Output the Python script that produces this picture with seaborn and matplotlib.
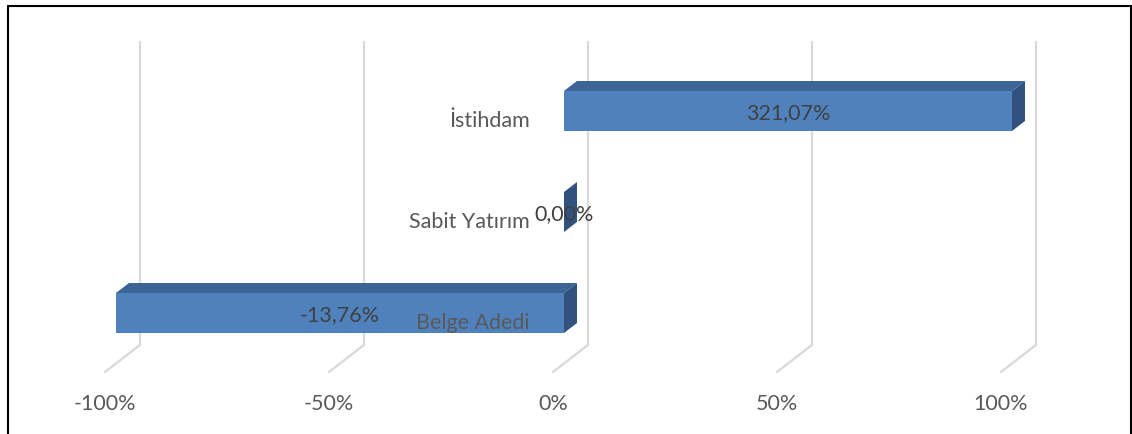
import pandas as pd
import matplotlib
matplotlib.use("Agg")
import matplotlib.pyplot as plt
from matplotlib.patches import Polygon, Rectangle
from matplotlib.transforms import ScaledTranslation, IdentityTransform
import seaborn as sns

# veriler (eksen ±%100 ile kesiliyor, çubuklar kenarda kesik görünüyor)
kategoriler = ["İstihdam", "Sabit Yatırım", "Belge Adedi"]
degisim = [3.2107, 0.0, -1.376]
degisim_etiket = ["321,07%", "0,00%", "-13,76%"]
eksen_tikler = [-1.0, -0.5, 0.0, 0.5, 1.0]
eksen_etiket = ["-100%", "-50%", "0%", "50%", "100%"]

ON = "#4F81BD"
UST = "#3C6494"
YAN = "#30527D"
IZGARA = "#D9D9D9"
YAZI = "#595959"
FS = 15.5

sns.set_theme(style="white")
plt.rcParams["font.family"] = ["Lato", "DejaVu Sans"]

W, H = 1132, 434
fig = plt.figure(figsize=(W / 100, H / 100), dpi=100)
ax = fig.add_axes([116 / W, 1 - 363.5 / H, 896 / W, 303 / H])
ax.patch.set_alpha(0)

df = pd.DataFrame({"kategori": kategoriler, "deger": degisim})
sns.barplot(data=df, x="deger", y="kategori", order=kategoriler, color=ON,
            saturation=1, width=40 / 101, edgecolor="none", ax=ax, zorder=2)
ax.set_xlim(-1, 1)
ax.set_ylim(2.5, -0.5)
for s in ax.spines.values():
    s.set_visible(False)
ax.set_yticks([])
ax.set_xticks(eksen_tikler, eksen_etiket)
ax.tick_params(axis="x", length=0, pad=22, labelsize=FS, labelcolor=YAZI)
ax.set_xlabel("")
ax.set_ylabel("")


def kay(dx, dy):
    return ScaledTranslation(dx / 100, dy / 100, fig.dpi_scale_trans)


for lab in ax.get_xticklabels():
    lab.set_transform(lab.get_transform() + kay(-11, 0))

# 3B izgara: arka duvar + zemin çizgileri
arka = ax.transData + kay(24, 18.5)
on = ax.transData + kay(-11, -8.5)
for t in eksen_tikler:
    ax.plot([t, t], [2.5, -0.5], transform=arka, color=IZGARA, lw=1.6,
            zorder=0, clip_on=False)
    p1 = arka.transform((t, 2.5))
    p2 = on.transform((t, 2.5))
    ax.plot([p1[0], p2[0]], [p1[1], p2[1]], transform=IdentityTransform(),
            color=IZGARA, lw=1.6, zorder=0, clip_on=False)

# çubukların üst ve yan yüzleri
dx, dy = 13, 10
cubuklar = sorted(ax.patches, key=lambda p: p.get_y())
for i, p in enumerate(cubuklar):
    x0, x1 = sorted([p.get_x(), p.get_x() + p.get_width()])
    x0, x1 = max(x0, -1), min(x1, 1)
    p.set_x(x0)
    p.set_width(x1 - x0)
    y0, y1 = p.get_y(), p.get_y() + p.get_height()
    A = ax.transData.transform((x0, y0))
    B = ax.transData.transform((x1, y0))
    C = ax.transData.transform((x1, y1))
    ust = [A, B, (B[0] + dx, B[1] + dy), (A[0] + dx, A[1] + dy)]
    yan = [B, C, (C[0] + dx, C[1] + dy), (B[0] + dx, B[1] + dy)]
    for pts, c in [(ust, UST), (yan, YAN)]:
        ax.add_patch(Polygon(pts, closed=True, facecolor=c, edgecolor="none",
                             transform=IdentityTransform(), clip_on=False, zorder=2))
    ax.text((x0 + x1) / 2, i, degisim_etiket[i], transform=ax.transData + kay(0, -2),
            ha="center", va="center", fontsize=FS, color="#404040", zorder=5)
    ax.text(0, i, kategoriler[i], transform=ax.transData + kay(-34, -10),
            ha="right", va="center", fontsize=FS, color=YAZI, zorder=5)

fig.add_artist(Rectangle((7.5 / W, -0.1), (1130.5 - 7.5) / W, 1 - 6 / H + 0.1,
                         transform=fig.transFigure, fill=False, ec="black", lw=1.5))

fig.savefig("out.png", dpi=100)
